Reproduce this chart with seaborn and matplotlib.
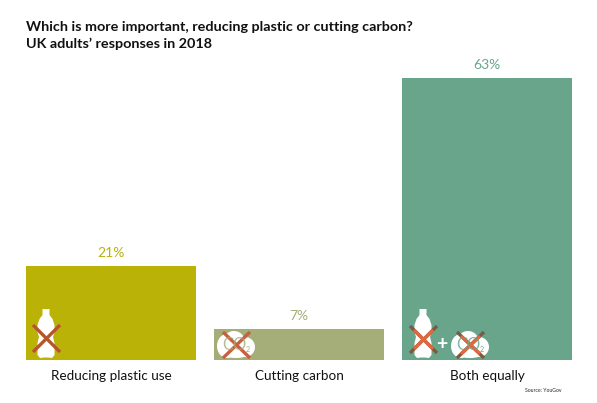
import matplotlib
matplotlib.use("Agg")
import matplotlib.pyplot as plt
from matplotlib.patches import Ellipse, Polygon
import pandas as pd
import seaborn as sns

# values from the picture
answers = ["Reducing plastic use", "Cutting carbon", "Both equally"]
shares = [21, 7, 63]
colours = ["#BBB207", "#A5AD78", "#69A58B"]

W, H = 597, 403

sns.set_theme(style="white")
plt.rcParams["font.family"] = ["Lato", "DejaVu Sans"]

df = pd.DataFrame({"answer": answers, "share": shares})

fig = plt.figure(figsize=(W / 100, H / 100), dpi=100, facecolor="white")
# axes box set so that bars land on the reference's pixels
ax = fig.add_axes([26 / W, (H - 360) / H, 546 / W, 282 / H])
sns.barplot(data=df, x="answer", y="share", hue="answer", palette=colours,
            order=answers, hue_order=answers, width=170 / 188, legend=False,
            saturation=1, linewidth=0, ax=ax)
ax.set_xlim(-85 / 188, 2 + 85 / 188)
ax.set_ylim(0, 63)
ax.set_xlabel("")
ax.set_ylabel("")
ax.set_yticks([])
ax.tick_params(axis="x", length=0, pad=7, labelsize=9.7, labelcolor="#111111")
sns.despine(ax=ax, left=True, bottom=True)

for cont, col in zip(ax.containers, colours):
    ax.bar_label(cont, fmt="%d%%", padding=5, color=col, fontsize=10, clip_on=False)

fig.text(26 / W, 1 - 27 / H, "Which is more important, reducing plastic or cutting carbon?",
         fontsize=10.4, fontweight="bold", color="#111111", va="center")
fig.text(26 / W, 1 - 44 / H, "UK adults\u2019 responses in 2018",
         fontsize=10.4, fontweight="bold", color="#111111", va="center")
fig.text(543 / W, 1 - 390 / H, "Source: YouGov", fontsize=3.7, color="#222222",
         ha="center", va="center")

# icons, on an overlay in pixel units
over = fig.add_axes([0, 0, 1, 1], zorder=5)
over.set_xlim(0, W)
over.set_ylim(H, 0)
over.axis("off")
over.patch.set_alpha(0)


def cross(x0, y0, x1, y1, col):
    over.plot([x0, x1], [y0, y1], color=col, lw=2.4, solid_capstyle="butt")
    over.plot([x0, x1], [y1, y0], color=col, lw=2.4, solid_capstyle="butt")


def bottle(cx):
    pts = [(-3.5, 309), (3.5, 309), (3.5, 315), (6.5, 319), (8.5, 325), (8.5, 332), (7, 337),
           (8.5, 343), (8.5, 355), (6, 358), (2, 357.5), (-2, 357.5), (-6, 358), (-8.5, 355),
           (-8.5, 343), (-7, 337), (-8.5, 332), (-8.5, 325), (-6.5, 319), (-3.5, 315)]
    over.add_patch(Polygon([(cx + a, b) for a, b in pts], closed=True, fc="white", ec="none"))


def cloud(cx, col):
    for dx, dy, w, h in [(-9, 346, 20, 24), (9, 347, 20, 20), (-2, 342, 22, 22), (0, 351, 34, 14)]:
        over.add_patch(Ellipse((cx + dx, dy), w, h, fc="white", ec="none"))
    over.text(cx - 2, 345, "CO", color=col, fontsize=12, ha="center", va="center",
              alpha=0.8)
    over.text(cx + 12, 349, "2", color=col, fontsize=5, ha="center", va="center")


bottle(46)
cross(33, 325, 60, 352, "#B4552B")
cloud(236, colours[1])
cross(223, 332, 250, 358, "#C8603F")
bottle(423)
cross(410, 326, 437, 353, "#7A5A42")
cross(414, 330, 433, 349, "#E0683F")
over.text(442, 344, "+", color="white", fontsize=14, fontweight="bold", ha="center", va="center")
cloud(470, colours[2])
cross(457, 332, 484, 358, "#7A5A42")
cross(461, 336, 480, 354, "#E0683F")

fig.savefig("out.png", dpi=100)
